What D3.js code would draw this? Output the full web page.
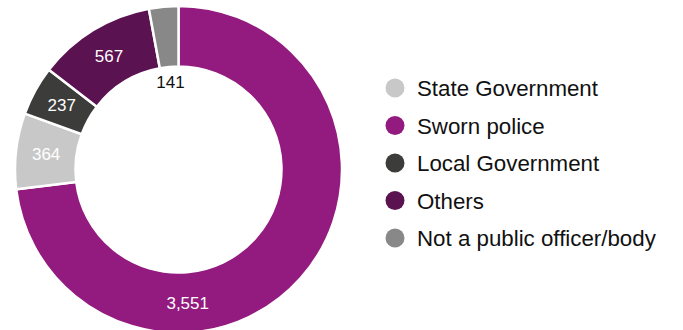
<!DOCTYPE html>
<html>
<head>
<meta charset="utf-8">
<script src="https://cdn.jsdelivr.net/npm/d3@7"></script>
<style>
  body { margin: 0; background: #fff; }
  svg { display: block; font-family: "Liberation Sans", Arial, sans-serif; }
</style>
</head>
<body>
<svg id="chart"></svg>
<script>
// categories in draw order (clockwise from 12 o'clock)
const categories = ["Sworn police", "State Government", "Local Government", "Others", "Not a public officer/body"];
const values = [3551, 364, 237, 567, 141];
const colors = ["#931a7e", "#c8c8c8", "#3c3c3a", "#5b1251", "#888888"];
const labels = ["3,551", "364", "237", "567", "141"];
// legend order as shown
const legendOrder = ["State Government", "Sworn police", "Local Government", "Others", "Not a public officer/body"];

const width = 683, height = 330;
const cx = 178.5, cy = 169.5;
const outerR = 163.5, innerR = 103;

const svg = d3.select("#chart")
    .attr("width", width)
    .attr("height", height);

const data = categories.map((c, i) => ({ name: c, value: values[i], color: colors[i], label: labels[i] }));

const pie = d3.pie()
    .value(d => d.value)
    .sort(null);

const arc = d3.arc()
    .innerRadius(innerR)
    .outerRadius(outerR);

const arcs = pie(data);

const g = svg.append("g")
    .attr("transform", `translate(${cx}, ${cy})`);

g.selectAll("path")
    .data(arcs)
    .join("path")
    .attr("d", arc)
    .attr("fill", d => d.data.color)
    .attr("stroke", "#fff")
    .attr("stroke-width", 2.5);

// label positions: centroid, except the big slice (placed near bottom) and the small one (inside the hole)
const labelArc = d3.arc().innerRadius(innerR).outerRadius(outerR);
const holeArc = d3.arc().innerRadius(88).outerRadius(88);

g.selectAll("text.val")
    .data(arcs)
    .join("text")
    .attr("class", "val")
    .attr("transform", d => {
        let p;
        if (d.data.name === "Sworn police") {
            const a = Math.PI * 0.978;
            p = labelArc.centroid({ startAngle: a, endAngle: a });
        } else if (d.data.name === "Not a public officer/body") {
            p = holeArc.centroid(d);
        } else {
            p = labelArc.centroid(d);
        }
        return `translate(${p[0]}, ${p[1]})`;
    })
    .attr("text-anchor", "middle")
    .attr("dy", "0.36em")
    .attr("font-size", 17)
    .attr("fill", d => d.data.name === "Not a public officer/body" ? "#111" : "#fff")
    .text(d => d.data.label);

// legend
const legend = svg.append("g")
    .attr("transform", "translate(395, 88)");

const rowH = 37.5;
const legendItems = legend.selectAll("g")
    .data(legendOrder)
    .join("g")
    .attr("transform", (d, i) => `translate(0, ${i * rowH})`);

legendItems.append("circle")
    .attr("r", 9.5)
    .attr("fill", d => colors[categories.indexOf(d)]);

legendItems.append("text")
    .attr("x", 22)
    .attr("dy", "0.36em")
    .attr("font-size", 22.3)
    .attr("fill", "#111")
    .text(d => d);
</script>
</body>
</html>
